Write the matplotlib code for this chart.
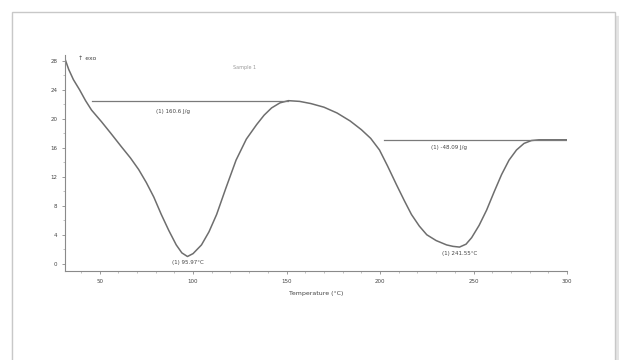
import matplotlib
matplotlib.use('Agg')
import matplotlib.pyplot as plt
from matplotlib.patches import Rectangle
from matplotlib.ticker import MultipleLocator

# DSC trace: temperature (°C) vs heat flow
temperature = [31.3, 33.5, 36.0, 39.3, 42.5, 45.7, 51.0, 56.0, 61.8, 66.5, 70.9,
               75.0, 79.0, 83.0, 87.0, 91.0, 94.0, 97.0, 100.0, 104.5, 108.5,
               112.6, 117.5, 123.0, 128.5, 134.0, 138.0, 142.0, 146.5, 151.0,
               157.0, 163.0, 170.0, 177.0, 184.0, 190.0, 195.0, 199.7, 204.0,
               208.8, 213.0, 216.8, 221.0, 225.0, 230.0, 235.6, 239.0, 242.5,
               246.0, 249.0, 253.0, 257.0, 261.0, 265.0, 269.0, 273.0, 277.0,
               281.0, 285.0, 289.0, 295.0, 300.0]
heat_flow = [28.4, 26.8, 25.4, 24.0, 22.5, 21.2, 19.6, 18.0, 16.1, 14.6, 13.0,
             11.2, 9.2, 6.8, 4.6, 2.6, 1.5, 1.0, 1.4, 2.6, 4.4,
             6.8, 10.4, 14.3, 17.2, 19.2, 20.5, 21.5, 22.2, 22.5,
             22.4, 22.1, 21.6, 20.8, 19.7, 18.5, 17.3, 15.7, 13.5,
             10.9, 8.7, 6.8, 5.2, 4.0, 3.2, 2.6, 2.4, 2.3,
             2.7, 3.6, 5.3, 7.4, 9.9, 12.3, 14.3, 15.7, 16.6,
             17.0, 17.1, 17.1, 17.1, 17.1]

# integration baselines
base1_t = [45.7, 151.0]
base1_v = [22.5, 22.5]
base2_t = [202.0, 300.0]
base2_v = [17.1, 17.1]

peak_t = [97.0, 242.5]
peak_v = [1.0, 2.3]
peak_labels = ['(1) 95.97°C', '(1) 241.55°C']
area_labels = ['(1) 160.6 J/g', '(1) -48.09 J/g']

x_ticks = [50, 100, 150, 200, 250, 300]
y_ticks = [0, 4, 8, 12, 16, 20, 24, 28]

fig = plt.figure(figsize=(6.19, 3.6), dpi=100)

# page frame with soft shadow, kept behind the axes
fig.patches.append(Rectangle((14 / 619, -0.05), 603 / 619, 1.0, transform=fig.transFigure,
                             facecolor='none', edgecolor='#e4e4e4', linewidth=3.0,
                             zorder=-20))
fig.patches.append(Rectangle((12 / 619, -0.05), 603 / 619, 1.0 - 12 / 360 + 0.05,
                             transform=fig.transFigure, facecolor='white',
                             edgecolor='#c8c8c8', linewidth=1.0, zorder=-10))

ax = fig.add_axes([65 / 619, 1 - 271 / 360, (567 - 65) / 619, (271 - 55) / 360])
ax.set_facecolor('none')
ax.set_zorder(5)

line_col = '#6e6e6e'
ax.plot(temperature, heat_flow, color=line_col, linewidth=1.1)
ax.plot(base1_t, base1_v, color='#7a7a7a', linewidth=0.9)
ax.plot(base2_t, base2_v, color='#7a7a7a', linewidth=0.9)

ax.set_xlim(31.5, 300)
ax.set_ylim(-1.0, 28.8)
ax.set_xticks(x_ticks)
ax.set_yticks(y_ticks[::-1])
ax.xaxis.set_minor_locator(MultipleLocator(10))
ax.yaxis.set_minor_locator(MultipleLocator(2))

for side in ('top', 'right'):
    ax.spines[side].set_visible(False)
for side in ('left', 'bottom'):
    ax.spines[side].set_color('#8a8a8a')
    ax.spines[side].set_linewidth(0.8)

ax.tick_params(axis='both', which='major', labelsize=4, colors='#8a8a8a',
               labelcolor='#444444', length=2.5, width=0.6, pad=3)
ax.tick_params(axis='both', which='minor', colors='#a8a8a8', length=1.2, width=0.5)

ax.set_xlabel('Temperature (°C)', fontsize=4.5, color='#444444', labelpad=5)

txt = dict(fontsize=4, color='#444444')
ax.text(80.0, 21.0, area_labels[0], ha='left', va='center', **txt)
ax.text(227.5, 16.1, area_labels[1], ha='left', va='center', **txt)
ax.text(peak_t[0], peak_v[0] - 0.5, peak_labels[0], ha='center', va='top', **txt)
ax.text(peak_t[1], peak_v[1] - 0.5, peak_labels[1], ha='center', va='top', **txt)

fig.text(78 / 619, 1 - 58 / 360, '↑ exo', fontsize=4.5, color='#444444', va='center')
fig.text(245 / 619, 1 - 68 / 360, 'Sample 1', fontsize=3.5, color='#999999',
         ha='center', va='center')

fig.savefig('out.png', dpi=100)
